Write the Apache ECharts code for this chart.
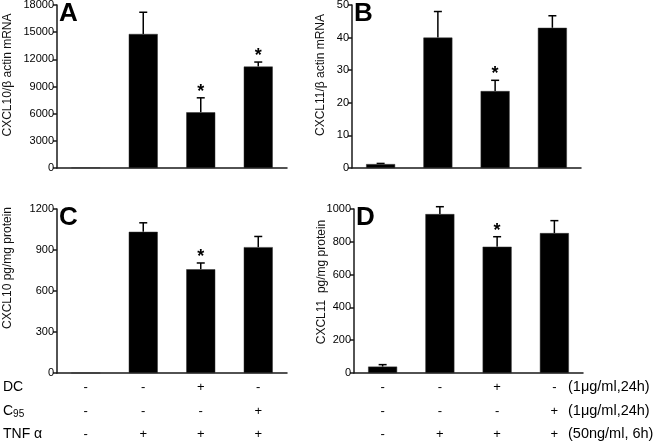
<!DOCTYPE html>
<html><head><meta charset="utf-8">
<script src="https://cdn.jsdelivr.net/npm/echarts@6/dist/echarts.min.js"></script>
<style>html,body{margin:0;padding:0;background:#fff}#c{width:653px;height:443px}</style>
</head><body><div id="c"></div>
<script>
const categories = ['1', '2', '3', '4'];
const meanA = [50, 14800, 6150, 11200];
const semA  = [0, 2400, 1600, 500];
const starA = [0, 0, 1, 1];
const meanB = [1.2, 40.0, 23.6, 43.0];
const semB  = [0.2, 8.0, 3.3, 3.7];
const starB = [0, 0, 1, 0];
const meanC = [0, 1033, 759, 921];
const semC  = [0, 66, 46, 78];
const starC = [0, 0, 1, 0];
const meanD = [39, 969, 770, 853];
const semD  = [12, 45, 61, 76];
const starD = [0, 0, 1, 0];
const rowDC  = ['-', '-', '+', '-'];
const rowC95 = ['-', '-', '-', '+'];
const rowTNF = ['-', '+', '+', '+'];
const unitsRow = ['(1\u03bcg/ml,24h)', '(1\u03bcg/ml,24h)', '(50ng/ml, 6h)'];
const yNames = ['CXCL10/\u03b2 actin mRNA', 'CXCL11/\u03b2 actin mRNA', 'CXCL10 pg/mg protein', 'CXCL11  pg/mg protein'];
const yMax = [18000, 50, 1200, 1000];
const yStep = [3000, 10, 300, 200];
const panelLetters = ['A', 'B', 'C', 'D'];

const FONT = 'Liberation Sans, Arial, Helvetica, sans-serif';
const chart = echarts.init(document.getElementById('c'), null, {renderer: 'canvas'});

const grids = [
  {left: 57, top: 5, width: 230, height: 163},
  {left: 352, top: 5, width: 229, height: 163},
  {left: 57, top: 209, width: 230, height: 164},
  {left: 354, top: 209, width: 229, height: 164}
].map(g => Object.assign({outerBoundsMode: 'none', containLabel: false}, g));

const means = [meanA, meanB, meanC, meanD];
const sems = [semA, semB, semC, semD];
const stars = [starA, starB, starC, starD];

const xAxes = grids.map((g, i) => ({
  type: 'category', gridIndex: i, data: categories,
  axisLine: {lineStyle: {color: '#1a1a1a', width: 1.5}},
  axisTick: {show: false}, axisLabel: {show: false}
}));
const yAxes = grids.map((g, i) => ({
  type: 'value', gridIndex: i, min: 0, max: yMax[i], interval: yStep[i],
  splitLine: {show: false},
  axisLine: {show: true, lineStyle: {color: '#1a1a1a', width: 1.5}},
  axisTick: {show: true, length: 4, lineStyle: {color: '#1a1a1a', width: 1.5}},
  axisLabel: {color: '#000', fontSize: 11, fontFamily: FONT, margin: 3, formatter: v => String(v)}
}));

const series = [];
means.forEach((m, i) => {
  series.push({
    type: 'bar', xAxisIndex: i, yAxisIndex: i, data: m, barWidth: 29,
    itemStyle: {color: '#000', borderColor: '#333', borderWidth: 0.5},
    silent: true, animation: false
  });
  series.push({
    type: 'custom', xAxisIndex: i, yAxisIndex: i, animation: false, silent: true,
    data: m.map((v, k) => [k, v, sems[i][k], stars[i][k]]),
    renderItem: function (params, api) {
      const base = api.coord([api.value(0), api.value(1)]);
      const top = api.coord([api.value(0), api.value(1) + api.value(2)]);
      const children = [];
      if (api.value(2) > 0) {
        children.push({type: 'line', shape: {x1: base[0], y1: base[1], x2: top[0], y2: top[1]},
          style: {stroke: '#000', lineWidth: 1.5}});
        children.push({type: 'line', shape: {x1: top[0] - 4, y1: top[1], x2: top[0] + 4, y2: top[1]},
          style: {stroke: '#000', lineWidth: 1.5}});
      }
      if (api.value(3)) {
        children.push({type: 'text', x: top[0], y: top[1] + 3,
          style: {text: '*', fontSize: 18, fontWeight: 'bold', fontFamily: FONT, fill: '#000',
            align: 'center', verticalAlign: 'bottom'}});
      }
      return {type: 'group', children: children};
    }
  });
});

chart.setOption({
  animation: false,
  grid: grids, xAxis: xAxes, yAxis: yAxes, series: series
});

const graphic = [];
grids.forEach((g, i) => {
  const p0 = chart.convertToPixel({yAxisIndex: i}, yMax[i]);
  graphic.push({type: 'text', x: g.left + 2, y: p0 - 4,
    style: {text: panelLetters[i], fontSize: 26, fontWeight: 'bold', fontFamily: FONT, fill: '#000'}});
});
const nameCenters = [[8, 75], [321, 75], [8, 268], [322, 282]];
yNames.forEach((n, i) => {
  graphic.push({type: 'text', x: nameCenters[i][0], y: nameCenters[i][1], rotation: Math.PI / 2,
    style: {text: n, fontSize: 12, fontFamily: FONT, fill: '#111', align: 'center', verticalAlign: 'middle'}});
});
const rowsY = [387, 411, 434];
const rowLabels = ['DC', '{n|C}{s|95}', 'TNF \u03b1'];
rowLabels.forEach((t, r) => {
  graphic.push({type: 'text', x: 3, y: rowsY[r],
    style: {text: t, fontSize: 14, fontFamily: FONT, fill: '#000', verticalAlign: 'middle',
      rich: {n: {fontSize: 14, fontFamily: FONT, fill: '#000'}, s: {fontSize: 10, fontFamily: FONT, fill: '#000', padding: [7, 0, 0, 0]}}}});
});
const rows = [rowDC, rowC95, rowTNF];
[2, 3].forEach(ax => {
  categories.forEach((c, k) => {
    const px = chart.convertToPixel({xAxisIndex: ax}, c);
    rows.forEach((row, r) => {
      graphic.push({type: 'text', x: px, y: rowsY[r],
        style: {text: row[k], fontSize: 13, fontFamily: FONT, fill: '#000', align: 'center', verticalAlign: 'middle'}});
    });
  });
});
unitsRow.forEach((u, r) => {
  graphic.push({type: 'text', x: 568, y: rowsY[r],
    style: {text: u, fontSize: 14.5, fontFamily: FONT, fill: '#000', verticalAlign: 'middle'}});
});
chart.setOption({graphic: graphic});
</script>
</body></html>
